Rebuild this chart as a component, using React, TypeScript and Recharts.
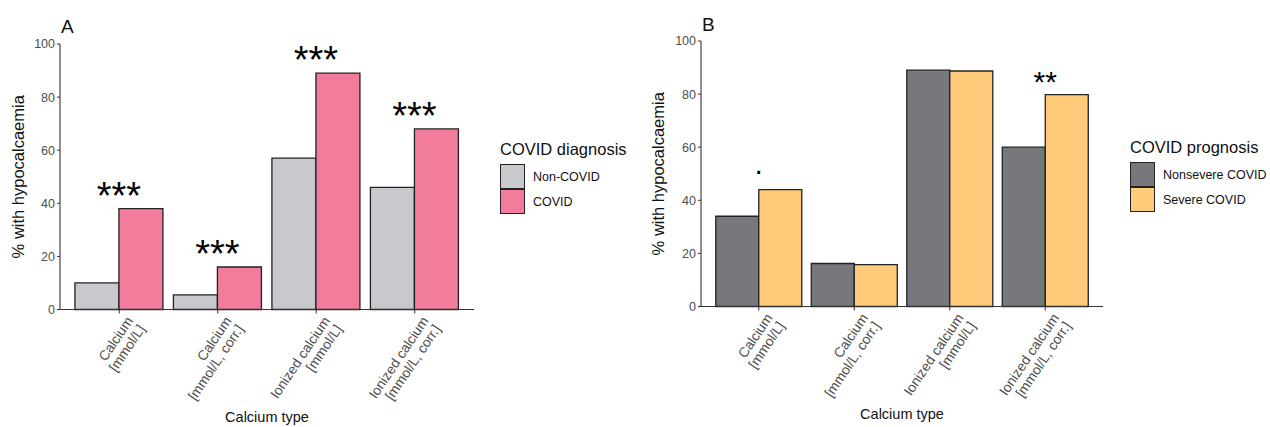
import { BarChart, Bar, XAxis, YAxis, LabelList } from 'recharts';

const categories = ['Calcium\n[mmol/L]', 'Calcium\n[mmol/L, corr.]', 'Ionized calcium\n[mmol/L]', 'Ionized calcium\n[mmol/L, corr.]'];
const yTicks = [0, 20, 40, 60, 80, 100];

// panel A
const nonCovid = [10, 5.5, 57, 46];
const covid = [38, 16, 89, 68];
const diagnosisSig = ['***', '***', '***', '***'];

// panel B
const nonsevere = [34, 16.2, 89, 60];
const severe = [44, 15.8, 88.7, 79.8];
const prognosisSig = ['.', '', '', '**'];

const FONT = "'Liberation Sans', Arial, sans-serif";
const AXIS = '#333';
const TICK_TXT = '#4d4d4d';

const dataA = categories.map((c, i) => ({ cat: c, a: nonCovid[i], b: covid[i], sig: diagnosisSig[i] }));
const dataB = categories.map((c, i) => ({ cat: c, a: nonsevere[i], b: severe[i], sig: prognosisSig[i] }));

const CatTick = (props: any) => {
    const { x, y, payload } = props;
    const lines = String(payload.value).split('\n');
    return (
        <g transform={`translate(${x + 11},${y + 3}) rotate(-56)`}>
            <text textAnchor="end" fontSize={13.8} fill={TICK_TXT} fontFamily={FONT}>
                {lines.map((l, i) => (
                    <tspan key={i} x={0} dy={i === 0 ? 4 : 14.5}>{l}</tspan>
                ))}
            </text>
        </g>
    );
};

const yLabel = (props: any) => {
    const vb = props.viewBox;
    const cx = vb.x + 18;
    const cy = vb.y + vb.height / 2;
    return (
        <text x={cx} y={cy} transform={`rotate(-90, ${cx}, ${cy})`} textAnchor="middle" dominantBaseline="central"
            fontSize={16.5} fill="#111" fontFamily={FONT}>% with hypocalcaemia</text>
    );
};

const xLabel = (props: any) => {
    const vb = props.viewBox;
    return (
        <text x={vb.x + vb.width / 2} y={vb.y + 112} textAnchor="middle" fontSize={14.5} fill="#111" fontFamily={FONT}>Calcium type</text>
    );
};

const sigLabel = (big: boolean) => (props: any) => {
    const { x, y, value } = props;
    if (!value) return null;
    const dot = value === '.';
    return (
        <text x={x} y={big ? y : y - (dot ? 16 : 3)} textAnchor="middle" fontSize={big ? 38 : 30} fill="#000" fontFamily={FONT}>{value}</text>
    );
};

const Panel = ({ data, colors, big, left, width, top, yW }: any) => (
    <div style={{ position: 'absolute', left, top: 0 }}>
        <BarChart width={width} height={427} data={data} margin={{ top, right: 6, left: 0, bottom: 0 }}
            barCategoryGap="5%" barGap={0}>
            <XAxis dataKey="cat" height={427 - top - 265.5} interval={0} tick={<CatTick />} tickSize={4}
                axisLine={{ stroke: AXIS, strokeWidth: 1.1 }} tickLine={{ stroke: AXIS }}
                padding={{ left: 10, right: 10 }} label={{ content: xLabel }} />
            <YAxis domain={[0, 100]} ticks={yTicks} width={yW} tickSize={3} interval={0}
                axisLine={{ stroke: AXIS, strokeWidth: 1.1 }} tickLine={{ stroke: AXIS }}
                tick={{ fill: TICK_TXT, fontSize: 12.5, fontFamily: FONT }} label={{ content: yLabel }} />
            <Bar dataKey="a" fill={colors[0]} stroke="#222" strokeWidth={1.3} isAnimationActive={false} />
            <Bar dataKey="b" fill={colors[1]} stroke="#222" strokeWidth={1.3} isAnimationActive={false}>
                <LabelList dataKey="sig" content={sigLabel(big)} />
            </Bar>
        </BarChart>
    </div>
);

const LegendBox = ({ left, top, title, names, colors }: any) => (
    <div style={{ position: 'absolute', left, top, fontFamily: FONT }}>
        <div style={{ fontSize: 16.5, color: '#111', height: 20, lineHeight: '20px' }}>{title}</div>
        {names.map((n: string, i: number) => (
            <div key={n} style={{ display: 'flex', alignItems: 'center', height: 25, marginTop: i === 0 ? 5 : 0 }}>
                <div style={{ width: 23, height: 23, background: colors[i], border: '1.3px solid #222' }} />
                <span style={{ marginLeft: 8, fontSize: 12.5, color: '#111' }}>{n}</span>
            </div>
        ))}
    </div>
);

export default function App() {
    const colA = ['#c8c9cd', '#f17c9b'];
    const colB = ['#77787d', '#ffca7a'];
    return (
        <div style={{ position: 'fixed', left: 0, top: 0, width: 1270, height: 427, background: '#fff', fontFamily: FONT, overflow: 'hidden' }}>
            <div style={{ position: 'absolute', left: 61, top: 15.5, fontSize: 19, color: '#111' }}>A</div>
            <div style={{ position: 'absolute', left: 702, top: 13.5, fontSize: 19, color: '#111' }}>B</div>
            <Panel data={dataA} colors={colA} big left={0} width={480} top={44} yW={60} />
            <Panel data={dataB} colors={colB} big={false} left={640} width={469} top={41} yW={61} />
            <LegendBox left={500} top={139} title="COVID diagnosis" names={['Non-COVID', 'COVID']} colors={colA} />
            <LegendBox left={1130} top={137} title="COVID prognosis" names={['Nonsevere COVID', 'Severe COVID']} colors={colB} />
        </div>
    );
}
